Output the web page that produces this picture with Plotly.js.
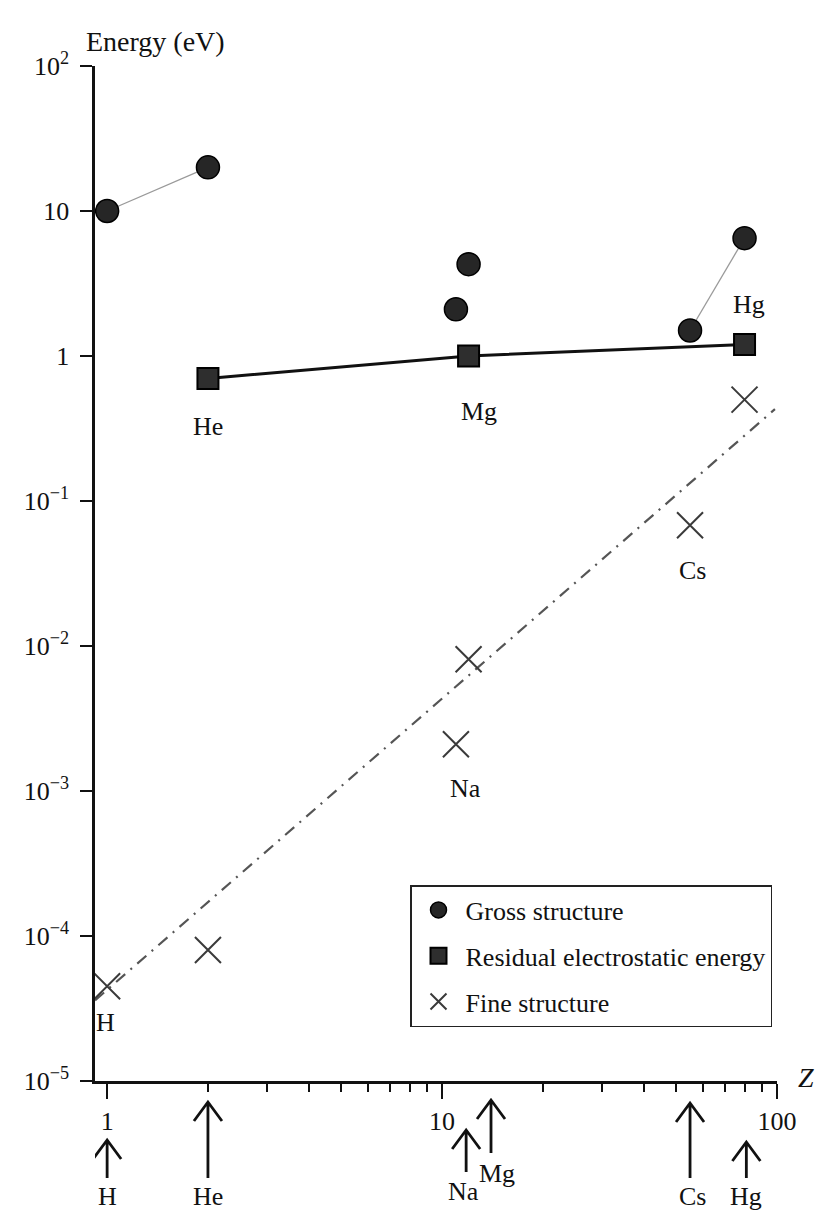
<!DOCTYPE html>
<html><head><meta charset="utf-8">
<script src="https://cdn.plot.ly/plotly-3.0.1.min.js"></script>
<style>html,body{margin:0;padding:0;background:#fff}</style>
</head><body><div id="chart" style="width:816px;height:1217px"></div>
<script>
// ---- data ----
const grossNames = ["H", "He", "Na", "Mg", "Cs", "Hg"];
const grossZ = [1, 2, 11, 12, 55, 80];
const grossE = [10, 20, 2.1, 4.3, 1.5, 6.5];

const residualNames = ["He", "Mg", "Hg"];
const residualZ = [2, 12, 80];
const residualE = [0.7, 1.0, 1.2];

const fineNames = ["H", "He", "Na", "Mg", "Cs", "Hg"];
const fineZ = [1, 2, 11, 12, 55, 80];
const fineE = [4.5e-5, 8.0e-5, 2.1e-3, 8.1e-3, 0.068, 0.5];

const fitZ = [0.92, 98.6];
const fitE = [3.6e-5, 0.43];

const arrowNames = ["H", "He", "Na", "Mg", "Cs", "Hg"];
const arrowZ = [1, 2, 11.8, 14, 55, 81];

const yTickVals = [1e-5, 1e-4, 1e-3, 1e-2, 1e-1, 1, 10, 100];
const yTickText = ["10<sup>−5</sup>", "10<sup>−4</sup>", "10<sup>−3</sup>", "10<sup>−2</sup>", "10<sup>−1</sup>", "1", "10", "10<sup>2</sup>"];
const xTickVals = [1, 10, 100];
const xTickText = ["1", "10", "100"];
const xMinorTicks = [2, 3, 4, 5, 6, 7, 8, 9, 20, 30, 40, 50, 60, 70, 80, 90];

// ---- layout constants ----
const W = 816, H = 1217;
const M = {l: 95, r: 39, t: 66, b: 136};
const plotBottom = H - M.b, plotH = H - M.t - M.b, plotW = W - M.l - M.r;
const pyToPaper = py => (plotBottom - py) / plotH;
const pxToPaper = px => (px - M.l) / plotW;
const FONT = "Liberation Serif, Times New Roman, serif";
const INK = "#111";

// arrow styling (pixel positions of tip, shaft end and label; label x-shift)
const arrowTipPx   = [1140, 1102, 1130, 1100, 1103, 1142];
const arrowBasePx  = [1178, 1178, 1172, 1153, 1178, 1178];
const arrowLabelPx = [1196, 1196, 1191, 1173, 1196, 1196];
const arrowLabelDx = [0, 0, -3, 6, 2, 0];
const HEAD_DX = 14, HEAD_DY = 19;

// element labels: which series and pixel shift
const labelSpecs = [
  {text: "H",  series: "fine",     idx: 0, dx: -2, dy: -36},
  {text: "He", series: "residual", idx: 0, dx: 0,  dy: -48},
  {text: "Na", series: "fine",     idx: 2, dx: 10, dy: -44},
  {text: "Mg", series: "residual", idx: 1, dx: 10, dy: -55},
  {text: "Cs", series: "fine",     idx: 4, dx: 2,  dy: -45},
  {text: "Hg", series: "residual", idx: 2, dx: 4,  dy: 40}
];
const seriesXY = {
  gross: [grossZ, grossE], residual: [residualZ, residualE], fine: [fineZ, fineE]
};

const pick = (arr, ids) => ids.map(i => arr[i]);

const traces = [
  {x: pick(grossZ, [0, 1]), y: pick(grossE, [0, 1]), mode: "lines", showlegend: false,
   line: {color: "#9a9a9a", width: 1.3}, hoverinfo: "skip"},
  {x: pick(grossZ, [4, 5]), y: pick(grossE, [4, 5]), mode: "lines", showlegend: false,
   line: {color: "#9a9a9a", width: 1.3}, hoverinfo: "skip"},
  {x: residualZ, y: residualE, mode: "lines", showlegend: false,
   line: {color: INK, width: 3}, hoverinfo: "skip"},
  {x: fitZ, y: fitE, mode: "lines", showlegend: false,
   line: {color: "#555", width: 2.2, dash: "12px,7px,2px,7px"}, hoverinfo: "skip"},
  {x: grossZ, y: grossE, text: grossNames, mode: "markers", name: "Gross structure",
   legendgroup: "a", legendrank: 1,
   marker: {symbol: "circle", size: 23, color: "#262626", line: {color: "#000", width: 1.5}}},
  {x: residualZ, y: residualE, text: residualNames, mode: "markers", name: "Residual electrostatic energy",
   legendgroup: "b", legendrank: 2,
   marker: {symbol: "square", size: 21, color: "#2e2e2e", line: {color: "#000", width: 2}}},
  {x: fineZ, y: fineE, text: fineNames, mode: "markers", name: "Fine structure",
   legendgroup: "c", legendrank: 3,
   marker: {symbol: "x-thin-open", size: 26, color: "#3a3a3a", line: {color: "#3a3a3a", width: 2}}}
];

const annotations = [];
labelSpecs.forEach(s => {
  const [xs, ys] = seriesXY[s.series];
  annotations.push({x: Math.log10(xs[s.idx]), y: Math.log10(ys[s.idx]), xref: "x", yref: "y",
    text: s.text, showarrow: false, xshift: s.dx, yshift: s.dy,
    font: {family: FONT, size: 26, color: INK}});
});
const shapes = [];
arrowNames.forEach((n, i) => {
  annotations.push({x: Math.log10(arrowZ[i]), y: pyToPaper(arrowLabelPx[i]), xref: "x", yref: "paper",
    yanchor: "middle", text: n, showarrow: false, xshift: arrowLabelDx[i],
    font: {family: FONT, size: 26, color: INK}});
  const len = arrowBasePx[i] - arrowTipPx[i];
  // shape anchors on a log axis take the data value itself
  shapes.push({type: "path", xref: "x", yref: "paper", xsizemode: "pixel", ysizemode: "pixel",
    xanchor: arrowZ[i], yanchor: pyToPaper(arrowTipPx[i]),
    path: `M0,0L0,${-len}M${-HEAD_DX},${-HEAD_DY}L0,0L${HEAD_DX},${-HEAD_DY}`,
    line: {color: INK, width: 2.8}, layer: "above"});
});
annotations.push({x: pxToPaper(84), y: pyToPaper(42), xref: "paper", yref: "paper", xanchor: "left", yanchor: "middle",
  text: "Energy (eV)", showarrow: false, font: {family: FONT, size: 28, color: INK}});
annotations.push({x: pxToPaper(806), y: pyToPaper(1077), xref: "paper", yref: "paper", xanchor: "center", yanchor: "middle",
  text: "<i>Z</i>", showarrow: false, font: {family: FONT, size: 28, color: INK}});

const layout = {
  width: W, height: H,
  margin: M,
  paper_bgcolor: "#fff", plot_bgcolor: "#fff",
  font: {family: FONT, size: 25, color: INK},
  showlegend: true,
  legend: {x: pxToPaper(410), y: pyToPaper(885), xanchor: "left", yanchor: "top",
    bgcolor: "#fff", bordercolor: "#222", borderwidth: 1.5, tracegroupgap: 9, itemwidth: 44,
    itemsizing: "trace", font: {family: FONT, size: 26, color: INK}},
  xaxis: {type: "log", range: [Math.log10(0.92), 2], showline: true, linecolor: INK, linewidth: 2.6,
    showgrid: false, zeroline: false, ticks: "outside", ticklen: 15, tickwidth: 2.4, tickcolor: INK,
    tickmode: "array", tickvals: xTickVals, ticktext: xTickText, ticklabelstandoff: 0,
    tickfont: {family: FONT, size: 26, color: INK},
    minor: {tickmode: "array", tickvals: xMinorTicks, ticks: "outside", ticklen: 8, tickwidth: 2, tickcolor: INK, showgrid: false}},
  yaxis: {type: "log", range: [-5, 2], showline: true, linecolor: INK, linewidth: 2.6,
    showgrid: false, zeroline: false, ticks: "outside", ticklen: 12, tickwidth: 2.6, tickcolor: INK,
    tickmode: "array", tickvals: yTickVals, ticktext: yTickText, ticklabelstandoff: 6,
    tickfont: {family: FONT, size: 26, color: INK}},
  shapes: shapes,
  annotations: annotations
};

Plotly.newPlot("chart", traces, layout, {displayModeBar: false, staticPlot: true});
</script>
</body></html>
